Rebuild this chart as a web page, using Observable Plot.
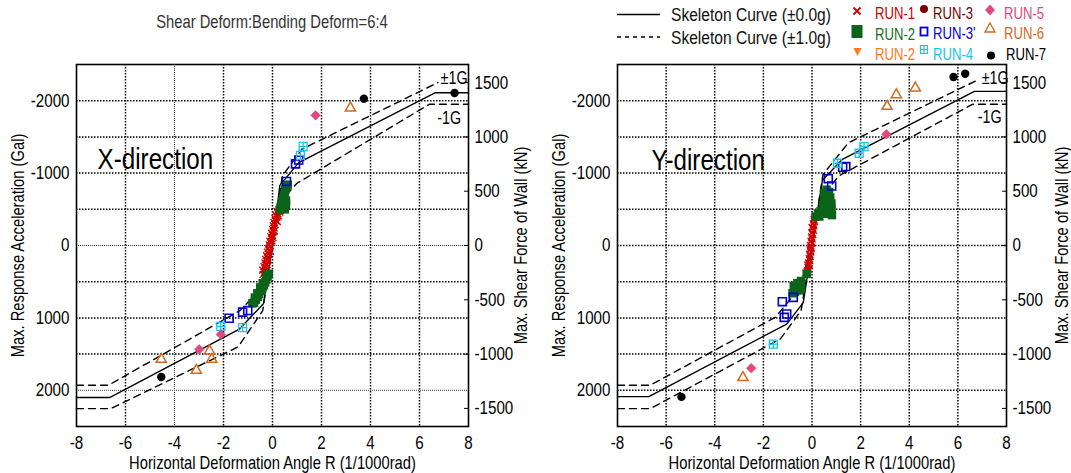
<!DOCTYPE html>
<html>
<head>
<meta charset="utf-8">
<script src="https://cdn.jsdelivr.net/npm/d3@7"></script>
<script src="https://cdn.jsdelivr.net/npm/@observablehq/plot@0.6"></script>
<style>
  html, body { margin: 0; padding: 0; background: #fff; }
  #wrap { position: relative; width: 1071px; height: 473px; overflow: hidden;
          font-family: "Liberation Sans", Arial, sans-serif; }
  #left  { position: absolute; left: 0; top: 0; }
  #right { position: absolute; left: 535px; top: 0; }
  #header { position: absolute; left: 0; top: 0; z-index: 2; }
</style>
</head>
<body>
<div id="wrap">
  <div id="left"></div>
  <div id="right"></div>
  <svg id="header" width="1071" height="62" font-family='"Liberation Sans",Arial,sans-serif'>
    <text x="272" y="22" dy="0.35em" text-anchor="middle" font-size="18" fill="#333">Shear Deform:Bending Deform=6:4</text>
    <g transform="translate(600,0)">
      <line x1="17" x2="60" y1="14.5" y2="14.5" stroke="#000" stroke-width="1.5"/>
      <text x="71" y="14.5" dy="0.35em" font-size="19" fill="#111">Skeleton Curve (±0.0g)</text>
      <line x1="17" x2="60" y1="37" y2="37" stroke="#000" stroke-width="1.3" stroke-dasharray="4,4"/>
      <text x="71" y="37" dy="0.35em" font-size="19" fill="#111">Skeleton Curve (±1.0g)</text>

      <path d="M253.5,7.5L260.5,14.5M260.5,7.5L253.5,14.5" stroke="#cc0000" stroke-width="1.8" fill="none"/>
      <text x="275" y="13" dy="0.35em" font-size="16" fill="#cc0000">RUN-1</text>
      <rect x="251.5" y="25" width="11" height="13" fill="#0b6418"/>
      <text x="275" y="34" dy="0.35em" font-size="16" fill="#1a6e1a">RUN-2</text>
      <path d="M253.5,48L261.5,48L257.5,56Z" fill="#ff7a1a"/>
      <text x="275" y="54.5" dy="0.35em" font-size="16" fill="#ff7a1a">RUN-2</text>

      <circle cx="324" cy="9" r="4" fill="#7a0000"/>
      <text x="333" y="13" dy="0.35em" font-size="16" fill="#7a0000">RUN-3</text>
      <rect x="320.5" y="27.5" width="7" height="8" fill="none" stroke="#0000dd" stroke-width="1.8"/>
      <text x="333" y="33" dy="0.35em" font-size="16" fill="#0000dd">RUN-3'</text>
      <path d="M320.5,45.5h7v8h-7ZM324,45.5v8M320.5,49.5h7" fill="none" stroke="#19c3f0" stroke-width="1.2"/>
      <text x="333" y="54" dy="0.35em" font-size="16" fill="#19c3f0">RUN-4</text>

      <path d="M390,4.5L395,10L390,15.5L385,10Z" fill="#e0487e"/>
      <text x="404" y="13" dy="0.35em" font-size="16" fill="#e0487e">RUN-5</text>
      <path d="M390,23L395,32L385,32Z" fill="none" stroke="#d2691e" stroke-width="1.4"/>
      <text x="404" y="33" dy="0.35em" font-size="16" fill="#d2691e">RUN-6</text>
      <circle cx="391" cy="55.5" r="4" fill="#000"/>
      <text x="406" y="54" dy="0.35em" font-size="16" fill="#000">RUN-7</text>
    </g>
  </svg>
</div>
<script>
// ---------- axes / ticks ----------
const ticksR   = [-8, -6, -4, -2, 0, 2, 4, 6, 8];
const gridR    = [-6, -4, -2, 0, 2, 4, 6];
const ticksGal = [-2000, -1000, 0, 1000, 2000];
const gridGal  = [-2000, -1500, -1000, -500, 0, 500, 1000, 1500, 2000];
const ticksKN  = [1500, 1000, 500, 0, -500, -1000, -1500];
const galPerKN = 1.5;   // right axis: kN = -Gal / 1.5

// ---------- X-direction : skeleton curves [R, Gal] ----------
const xSkeleton00 = [[-8, 2100], [-6.65, 2100], [-1.37, 1160], [-0.37, 805], [0, 0], [0.3, -830], [1.07, -1145], [6.65, -2110], [8, -2110]];
const xSkeletonP1 = [[-8, 2253], [-6.6, 2253], [-1.4, 1400], [-0.4, 900], [0, 0], [0.4, -960], [1.2, -1330], [6.75, -2250]];
const xSkeletonM1 = [[-8, 1931], [-6.7, 1931], [-1.32, 897], [-0.45, 590], [0, 0], [0.3, -600], [1.0, -860], [6.4, -1950], [8, -1950]];

// ---------- X-direction : measured points [R, Gal] ----------
const xRun1 = [[-0.38, 400], [-0.33, 370], [-0.4, 340], [-0.3, 320], [-0.35, 290], [-0.27, 270], [-0.31, 240], [-0.24, 220],
  [-0.28, 190], [-0.2, 170], [-0.25, 140], [-0.17, 120], [-0.21, 90], [-0.14, 70], [-0.18, 40], [-0.1, 20], [-0.14, -10],
  [-0.07, -40], [-0.11, -60], [-0.03, -90], [-0.07, -120], [0.0, -140], [-0.04, -170], [0.04, -190], [0.0, -220],
  [0.07, -240], [0.03, -270], [0.1, -290], [0.06, -320], [0.14, -340], [0.1, -370], [0.18, -390], [0.14, -420],
  [0.22, -440], [0.18, -470], [0.26, -490], [0.3, -460], [0.24, -410], [-0.02, -60], [-0.22, 260], [0.08, -200],
  [-0.3, 350], [-0.16, 200], [0.02, -110], [0.2, -330], [-0.08, 80]];
const xRun2 = [[0.3, -490], [0.33, -530], [0.36, -570], [0.4, -610], [0.44, -650], [0.47, -690], [0.5, -730], [0.52, -770],
  [0.55, -810], [0.62, -840], [0.5, -500], [0.55, -560], [0.55, -620], [0.5, -600], [0.45, -540],
  [-0.15, 390], [-0.2, 430], [-0.25, 470], [-0.3, 510], [-0.35, 550], [-0.42, 590], [-0.5, 630], [-0.55, 670],
  [-0.6, 710], [-0.68, 750], [-0.75, 790], [-0.82, 800], [-0.25, 410], [-0.4, 520], [-0.5, 580], [-0.62, 660], [-0.72, 720]];
const xRun3p = [[0.57, -885], [0.94, -1127], [1.07, -1180], [-1.77, 1005], [-1.22, 920], [-1.01, 897]];
const xRun4 = [[1.25, -1370], [1.14, -1246], [-2.11, 1117], [-1.22, 1135]];
const xRun5 = [[1.76, -1798], [-2.11, 1228], [-2.99, 1434]];
const xRun6 = [[3.18, -1899], [-4.54, 1572], [-2.57, 1457], [-2.48, 1572], [-3.11, 1724]];
const xRun7 = [[3.73, -2028], [7.43, -2106], [-4.54, 1816]];

// ---------- Y-direction : skeleton curves [R, Gal] ----------
const ySkeleton00 = [[-8, 2087], [-6.71, 2087], [-1.04, 1085], [-0.36, 790], [0, 0], [0.43, -900], [1.25, -1190], [6.68, -2129], [8, -2129]];
const ySkeletonP1 = [[-8, 2253], [-6.65, 2253], [-1.3, 1290], [-0.45, 900], [0, 0], [0.45, -980], [1.5, -1420], [6.75, -2275]];
const ySkeletonM1 = [[-8, 1930], [-6.65, 1930], [-1.5, 990], [-0.45, 560], [0, 0], [0.35, -650], [1.1, -960], [6.6, -1950], [8, -1950]];

// ---------- Y-direction : measured points [R, Gal] ----------
const yRun1 = [[0.12, -390], [0.08, -360], [0.1, -330], [0.05, -300], [0.08, -270], [0.03, -240], [0.06, -210], [0.0, -180],
  [0.03, -150], [-0.02, -120], [0.01, -90], [-0.04, -60], [-0.01, -30], [-0.06, 0], [-0.03, 30], [-0.08, 60], [-0.05, 90],
  [-0.1, 120], [-0.07, 150], [-0.12, 180], [-0.09, 210], [-0.14, 240], [-0.11, 270], [-0.17, 300], [-0.14, 330],
  [-0.2, 360], [-0.25, 380], [-0.18, 270], [0.0, -250], [-0.04, 40]];
const yRun2 = [[0.15, -400], [0.25, -440], [0.3, -400], [0.35, -470], [0.5, -440], [0.55, -520], [0.6, -600], [0.5, -650],
  [0.5, -720], [0.6, -770], [0.7, -740], [0.75, -660], [0.8, -580], [0.8, -500], [0.82, -420], [0.7, -440], [0.45, -560],
  [-0.22, 392], [-0.45, 490], [-0.5, 540], [-0.6, 520], [-0.65, 590], [-0.7, 640], [-0.8, 660], [-0.55, 620], [-0.75, 560], [-0.45, 600]];
const yRun3p = [[0.67, -923], [0.81, -821], [1.26, -1080], [1.39, -1090], [-1.22, 776], [-0.77, 716], [-1.04, 946], [-1.14, 993]];
const yRun4 = [[2.14, -1367], [1.94, -1274], [1.05, -1136], [-1.59, 1362]];
const yRun5 = [[3.06, -1537], [-2.5, 1694]];
const yRun6 = [[4.25, -2175], [3.47, -2082], [3.09, -1921], [-2.84, 1824]];
const yRun7 = [[5.82, -2327], [6.3, -2373], [-5.37, 2091]];

// ---------- annotations [text, R, Gal] ----------
const xNotes = [["X-direction", -7.14, -1062], ["±1G", 6.86, -2234], ["-1G", 6.72, -1683]];
const yNotes = [["Y-direction", -6.6, -1040], ["±1G", 6.98, -2234], ["-1G", 6.82, -1690]];

const FONT = '"Liberation Sans",Arial,sans-serif';
const NARROW = 0.82;   // emulate a narrow (Arial Narrow-like) face
const rows = pairs => pairs.map(([r, g]) => ({r, g}));
const gridSquare = {
  draw(ctx, size) {
    const s = Math.sqrt(size) / 2;
    ctx.moveTo(-s, -s); ctx.lineTo(s, -s); ctx.lineTo(s, s); ctx.lineTo(-s, s); ctx.closePath();
    ctx.moveTo(0, -s); ctx.lineTo(0, s); ctx.moveTo(-s, 0); ctx.lineTo(s, 0);
  }
};

// squeeze every text horizontally about its own anchor point
function condense(root) {
  root.querySelectorAll("text").forEach(t => {
    const x = parseFloat(t.getAttribute("x")) || 0;
    const tr = t.getAttribute("transform") || "";
    t.setAttribute("transform", `${tr} translate(${x},0) scale(${NARROW},1) translate(${-x},0)`.trim());
  });
}

function panel(p) {
  const dotted = {stroke: "#000", strokeOpacity: 1, strokeWidth: 1.5, strokeDasharray: "1.5,1.5"};
  const light = {stroke: "#444", strokeOpacity: 1, strokeWidth: 1, strokeDasharray: "1,1"};
  const line = {x: "r", y: "g", stroke: "#000", strokeWidth: 1.4};
  const dash = {...line, strokeDasharray: "7,5"};
  const notes = p.notes.map(([text, r, g]) => ({text, r, g}));
  return Plot.plot({
    width: p.width, height: 473,
    marginLeft: p.marginLeft, marginRight: p.marginRight, marginTop: 64, marginBottom: 47,
    x: {domain: [-8, 8]},
    y: {domain: [-2500, 2500], reverse: true},
    style: {fontFamily: FONT, fontSize: "18.5px", color: "#000", background: "transparent", overflow: "visible"},
    marks: [
      Plot.gridY(gridGal.filter(g => !p.lightGal.includes(g)), dotted),
      Plot.gridY(p.lightGal, light),
      Plot.gridX(gridR.filter(r => !p.lightR.includes(r)), dotted),
      Plot.gridX(p.lightR, light),
      Plot.frame({stroke: "#000", strokeWidth: 1.6}),
      Plot.line(rows(p.solid), line),
      Plot.line(rows(p.plus), dash),
      Plot.line(rows(p.minus), dash),
      Plot.dot(rows(p.run1), {x: "r", y: "g", symbol: "times", r: 3.2, stroke: "#d40000", strokeWidth: 1.3}),
      Plot.dot(rows(p.run2), {x: "r", y: "g", symbol: "square", r: 4.8, fill: "#0b6418"}),
      Plot.dot(rows(p.run3p), {x: "r", y: "g", symbol: "square", r: 4.5, fill: "none", stroke: "#0000d0", strokeWidth: 1.6}),
      Plot.dot(rows(p.run4), {x: "r", y: "g", symbol: gridSquare, r: 4.5, fill: "none", stroke: "#19c3f0", strokeWidth: 1.3}),
      Plot.dot(rows(p.run5), {x: "r", y: "g", symbol: "diamond2", r: 4.4, fill: "#e0487e", stroke: "#e0487e", strokeWidth: 0.5}),
      Plot.dot(rows(p.run6), {x: "r", y: "g", symbol: "triangle", r: 3.8, fill: "none", stroke: "#d2691e", strokeWidth: 1.5}),
      Plot.dot(rows(p.run7), {x: "r", y: "g", symbol: "circle", r: 4.2, fill: "#000"}),
      Plot.text(notes.slice(0, 1), {x: "r", y: "g", text: "text", textAnchor: "start", lineAnchor: "bottom", fontSize: 29.5, fill: "#000"}),
      Plot.text(notes.slice(1), {x: "r", y: "g", text: "text", textAnchor: "start", lineAnchor: "bottom", fontSize: 17.5, fill: "#000"}),
      Plot.axisX(ticksR, {anchor: "bottom", tickSize: 0, tickPadding: 9, tickFormat: d => String(d), label: null}),
      Plot.axisX({anchor: "bottom", ticks: [], tickSize: 0, fontSize: 18,
        label: "Horizontal Deformation Angle R (1/1000rad)", labelAnchor: "center", labelArrow: "none", labelOffset: 42}),
      Plot.axisY(ticksGal, {anchor: "left", tickSize: 0, tickPadding: 7, tickFormat: d => String(d), label: null}),
      Plot.axisY({anchor: "left", ticks: [], tickSize: 0, fontSize: 18,
        label: "Max. Response Acceleration (Gal)", labelAnchor: "center", labelArrow: "none", labelOffset: 65}),
      Plot.axisY(ticksKN.map(k => -k * galPerKN), {anchor: "right", tickSize: -5, tickFormat: () => "", label: null}),
      Plot.axisY(ticksKN.map(k => -k * galPerKN), {anchor: "right", tickSize: 0, tickPadding: 6,
        tickFormat: d => String(Math.round(-d / galPerKN)), label: null}),
      Plot.axisY({anchor: "right", ticks: [], tickSize: 0, fontSize: 18,
        label: "Max. Shear Force of Wall (kN)", labelAnchor: "center", labelArrow: "none", labelOffset: p.rightLabelOffset})
    ]
  });
}

const leftSvg = panel({
  width: 535, marginLeft: 76, marginRight: 67, rightLabelOffset: 58,
  solid: xSkeleton00, plus: xSkeletonP1, minus: xSkeletonM1,
  run1: xRun1, run2: xRun2, run3p: xRun3p, run4: xRun4, run5: xRun5, run6: xRun6, run7: xRun7,
  notes: xNotes, lightGal: [0, 2000], lightR: [-4]
});
const rightSvg = panel({
  width: 536, marginLeft: 82, marginRight: 65, rightLabelOffset: 61,
  solid: ySkeleton00, plus: ySkeletonP1, minus: ySkeletonM1,
  run1: yRun1, run2: yRun2, run3p: yRun3p, run4: yRun4, run5: yRun5, run6: yRun6, run7: yRun7,
  notes: yNotes, lightGal: [], lightR: []
});
document.getElementById("left").append(leftSvg);
document.getElementById("right").append(rightSvg);
condense(leftSvg);
condense(rightSvg);
condense(document.getElementById("header"));
</script>
</body>
</html>
